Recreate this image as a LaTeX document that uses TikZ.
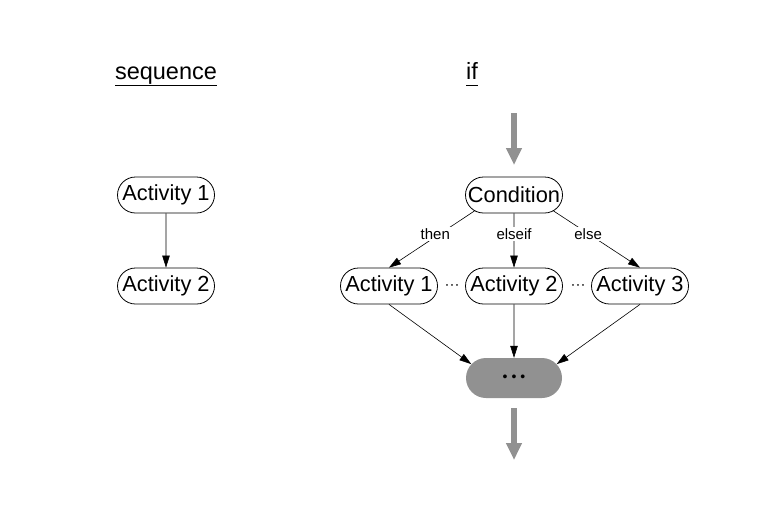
\documentclass[tikz,border=0pt]{standalone}
\usepackage{fontspec}
\setmainfont{Liberation Sans}
\usetikzlibrary{shapes.misc,arrows.meta}
\definecolor{flowgray}{RGB}{145,145,145}
\begin{document}
\begin{tikzpicture}[x=1pt,y=-1pt,
  act/.style={rounded rectangle,draw,line width=0.8pt,minimum width=97pt,minimum height=36pt,inner sep=0pt,font=\fontsize{21.8}{24}\selectfont},
  title/.style={font=\fontsize{23.5}{26}\selectfont,inner sep=0pt,anchor=base},
  lbl/.style={fill=white,inner sep=1.5pt,font=\fontsize{15}{17}\selectfont},
  dotsnode/.style={font=\fontsize{15}{17}\selectfont,inner sep=0pt},
  conn/.style={line width=0.6pt,-{Triangle[length=12pt,width=7.5pt]}},
  flow/.style={draw=flowgray,line width=6pt,-{Triangle[length=17pt,width=15pt]}},
]
\useasboundingbox (0,0) rectangle (768,517);
\fill[white] (0,0) rectangle (768,517);
\node[title] (tseq) at (166,79) {\underline{sequence}};
\node[title] (tif) at (472,79) {\underline{if\vphantom{q}}};
\node[act] (s1) at (166,195) {Activity 1};
\node[act] (s2) at (166,286) {Activity 2};
\node[act] (cond) at (514,195) {Condition};
\node[act] (a1) at (389,286) {Activity 1};
\node[act] (a2) at (514,286) {Activity 2};
\node[act] (a3) at (640,286) {Activity 3};
\node[rounded rectangle,fill=flowgray,minimum width=96pt,minimum height=40pt,inner sep=0pt] (join) at (514,378) {\fontsize{14}{16}\selectfont •\hspace{4pt}•\hspace{4pt}•};
\node[dotsnode] (d1) at (452,287) {···};
\node[dotsnode] (d2) at (578,287) {···};
\draw[conn] (s1) -- (s2);
\draw[conn] (cond.202) -- node[lbl,pos=0.4,xshift=-5pt]{then} (a1.north);
\draw[conn] (cond) -- node[lbl,pos=0.38]{elseif} (a2);
\draw[conn] (cond.338) -- node[lbl,pos=0.4]{else} (a3.north);
\draw[conn] (a1.south) -- (join.162);
\draw[conn] (a2) -- (join);
\draw[conn] (a3.south) -- (join.18);
\coordinate (fin) at (514,113);
\coordinate (fintip) at (514,165);
\coordinate (fout) at (514,408);
\coordinate (fouttip) at (514,460);
\draw[flow] (fin) -- (fintip);
\draw[flow] (fout) -- (fouttip);
\end{tikzpicture}
\end{document}
